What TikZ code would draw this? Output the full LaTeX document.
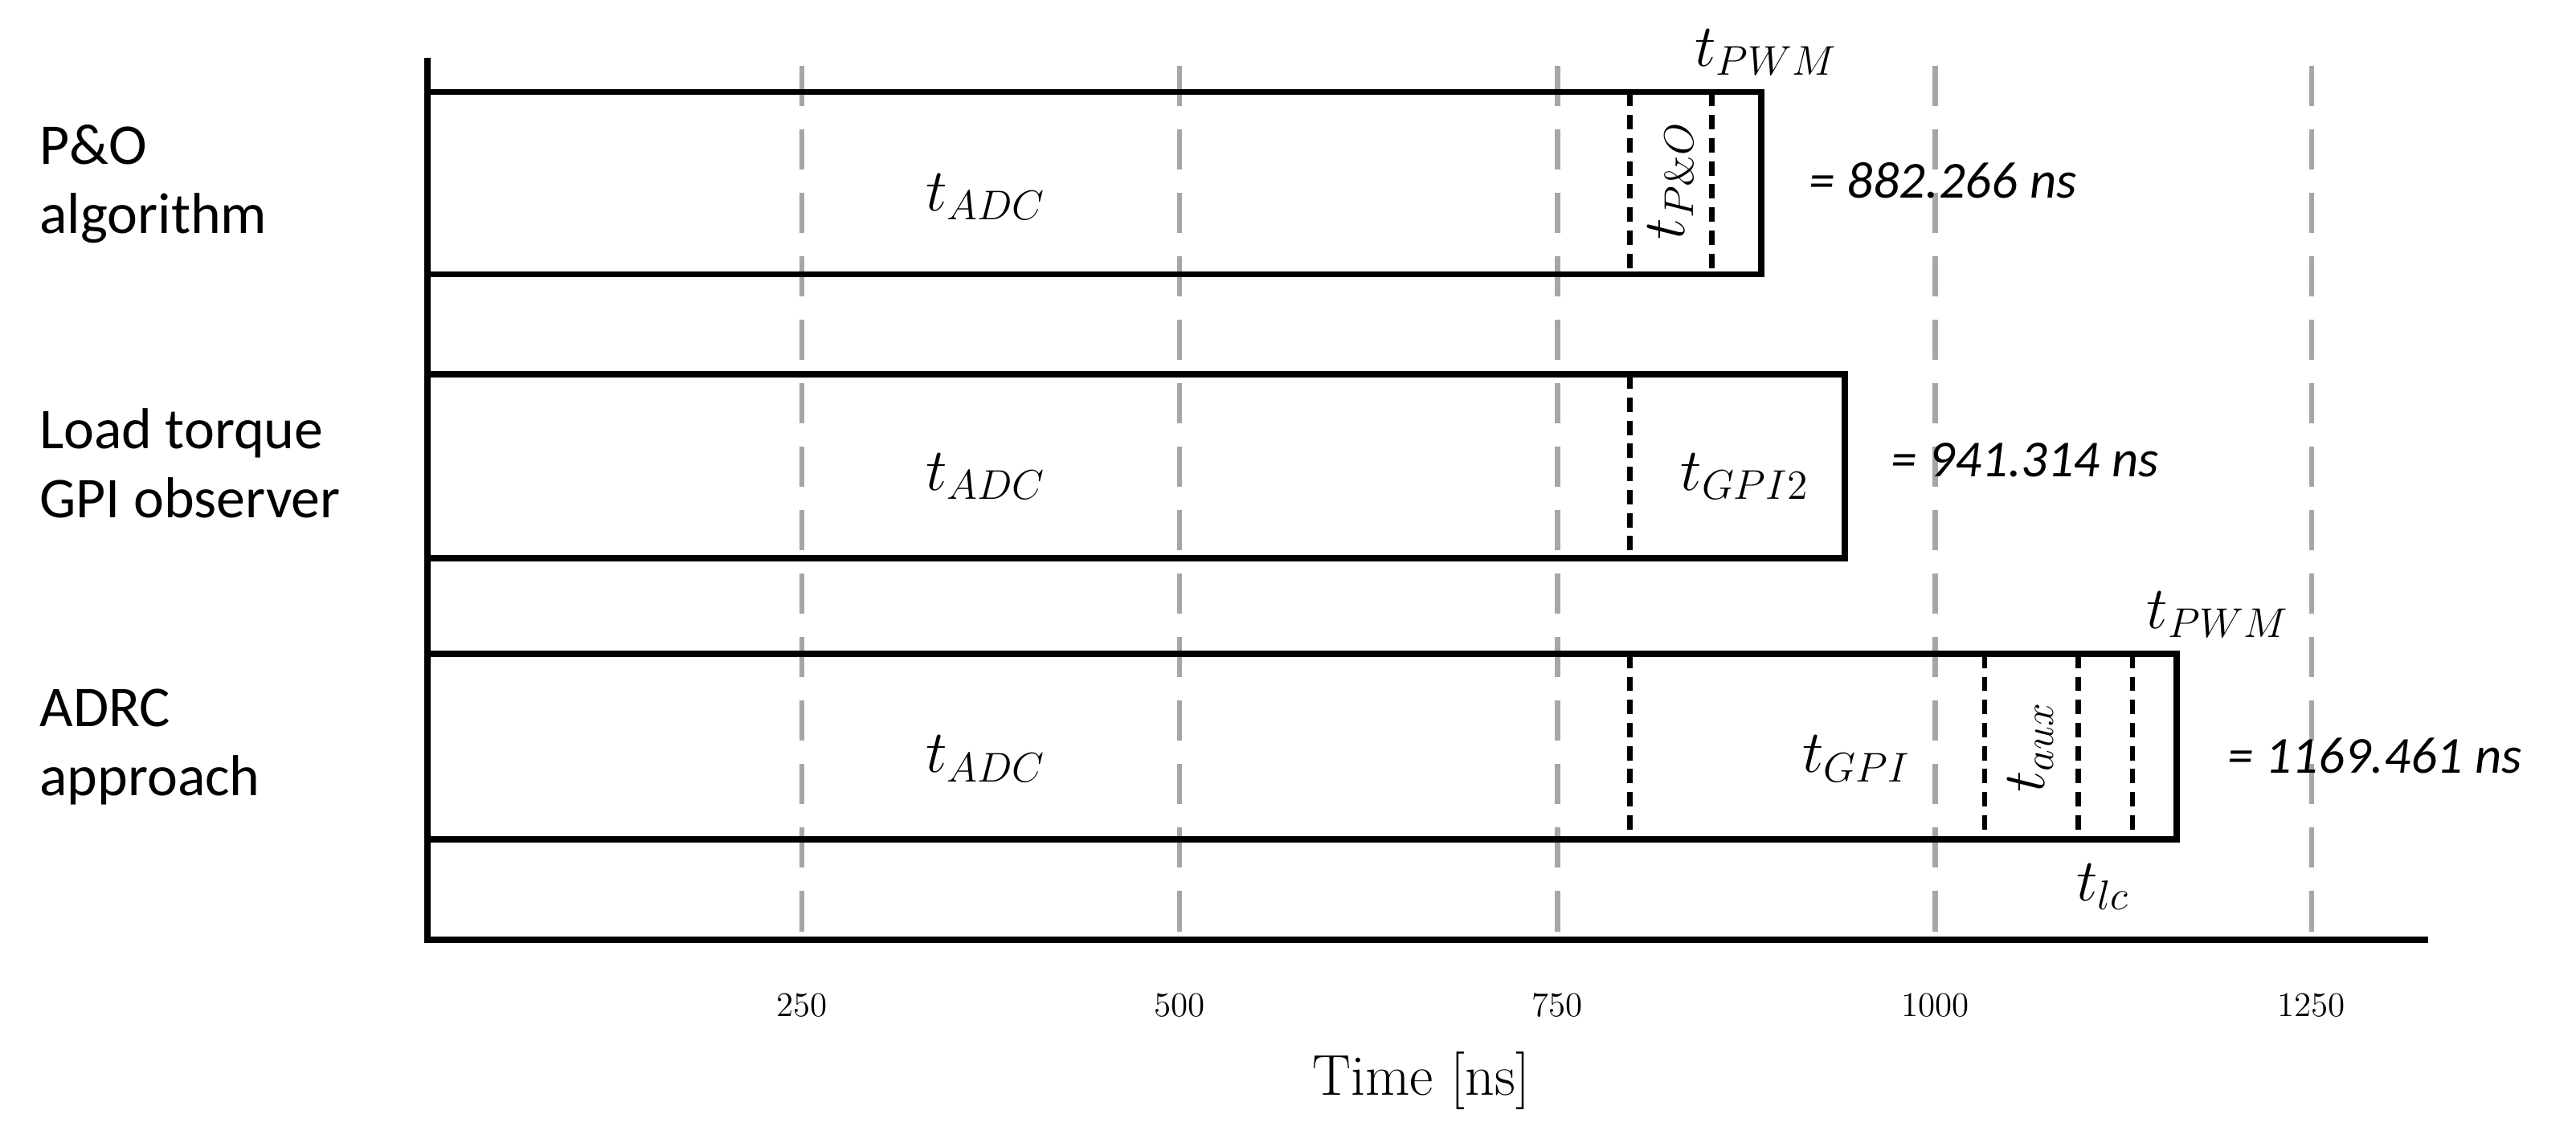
\documentclass[tikz,border=0pt]{standalone}
\usepackage{fontspec}
\newfontfamily\carl{Carlito}
\begin{document}
\begin{tikzpicture}[x=0.02cm,y=-0.02cm,
 grid/.style={gray!70,line width=1.8pt,dash pattern=on 14pt off 8pt},
 bar/.style={draw,line width=2.2pt},
 sep/.style={line width=1.8pt,dash pattern=on 5pt off 3pt},
 lab/.style={font=\carl\fontsize{20}{24}\selectfont,align=left,anchor=west},
 mt/.style={font=\fontsize{20}{24}\selectfont},
 res/.style={font=\carl\itshape\fontsize{18}{21}\selectfont,anchor=west},
 tick/.style={font=\fontsize{12}{14}\selectfont}]
\useasboundingbox (0,0) rectangle (1568,698);
\foreach \x/\v in {488/250,718/500,948/750,1178/1000,1407/1250}{
 \draw[grid] (\x,40) -- (\x,572);
 \node[tick] (t\v) at (\x,612) {\v};}
\draw[line width=2.2pt] (260,35) coordinate (top) -- (260,572) coordinate (o) -- (1478,572) coordinate (xe);
\node[font=\fontsize{20}{24}\selectfont] (xl) at (865,658) {Time [ns]};
% row 1
\draw[bar] (260,56) rectangle (1072,167);
\draw[sep] (992,56) -- (992,167); \draw[sep] (1042,56) -- (1042,167);
\node[mt] (a1) at (600,120) {$t_{ADC}$};
\node[mt,rotate=90] (p1) at (1017,110) {$t_{P\&O}$};
\node[mt] (w1) at (1075,32) {$t_{PWM}$};
\node[res] (r1) at (1095,110) {= 882.266 ns};
\node[lab] (l1) at (18,112) {P\&O\\algorithm};
% row 2
\draw[bar] (260,228) rectangle (1123,340);
\draw[sep] (992,228) -- (992,340);
\node[mt] (a2) at (600,290) {$t_{ADC}$};
\node[mt] (g2) at (1062,290) {$t_{GPI2}$};
\node[res] (r2) at (1145,280) {= 941.314 ns};
\node[lab] (l2) at (18,282) {Load torque\\GPI observer};
% row 3
\draw[bar] (260,398) rectangle (1325,511);
\foreach \x in {992,1208,1265,1298} \draw[sep] (\x,398) -- (\x,511);
\node[mt] (a3) at (600,462) {$t_{ADC}$};
\node[mt] (g3) at (1130,462) {$t_{GPI}$};
\node[mt,rotate=90] (x3) at (1236,455) {$t_{aux}$};
\node[mt] (w3) at (1350,374) {$t_{PWM}$};
\node[mt] (c3) at (1280,540) {$t_{lc}$};
\node[res] (r3) at (1350,460) {= 1169.461 ns};
\node[lab] (l3) at (18,455) {ADRC\\approach};
\end{tikzpicture}
\end{document}
